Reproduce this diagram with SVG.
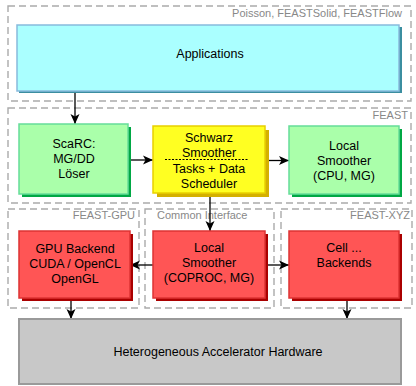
<svg xmlns="http://www.w3.org/2000/svg" width="416" height="386" viewBox="0 0 416 386">
<defs>
<marker id="ah" viewBox="0 0 10 10" refX="10" refY="5" markerWidth="10" markerHeight="10" markerUnits="userSpaceOnUse" orient="auto">
<path d="M0,0.5 L10,5 L0,9.5 L2.5,5 Z" fill="#000"/>
</marker>
</defs>
<style>
.grp{fill:none;stroke:#aaaaaa;stroke-width:1.4;stroke-dasharray:7,4}
.lbl{font-family:"Liberation Sans",Arial,sans-serif;font-size:11px;fill:#888}
.t{font-family:"Liberation Sans",Arial,sans-serif;font-size:12.5px;fill:#000;text-anchor:middle}
.app{fill:#aaffff;stroke:#88bbdd;stroke-width:1.5}
.apps{fill:#3b8ea0}
.grn{fill:#aaffaa;stroke:#66dd99;stroke-width:1.5}
.grns{fill:#00a844}
.yel{fill:#ffff22;stroke:#e8d000;stroke-width:1.5}
.yels{fill:#d4b000}
.red{fill:#ff5555;stroke:#dd3333;stroke-width:1.5}
.reds{fill:#aa0000}
.hw{fill:#c8c8c8;stroke:#9a9a9a;stroke-width:2}
.c{stroke:#000;stroke-width:1.3;fill:none;marker-end:url(#ah)}
</style>
<g id="groups">
<rect class="grp" x="8" y="6" width="403" height="95"/>
<text class="lbl" x="402" y="17" text-anchor="end">Poisson, FEASTSolid, FEASTFlow</text>
<rect class="grp" x="8" y="108" width="403" height="95"/>
<text class="lbl" x="408" y="119" text-anchor="end">FEAST</text>
<rect class="grp" x="8" y="209" width="131" height="99"/>
<text class="lbl" x="135" y="219" text-anchor="end">FEAST-GPU</text>
<rect class="grp" x="145" y="209" width="129" height="99"/>
<text class="lbl" x="157" y="219">Common Interface</text>
<rect class="grp" x="281" y="209" width="131" height="99"/>
<text class="lbl" x="410" y="219" text-anchor="end">FEAST-XYZ</text>
</g>
<g id="connectors">
<line class="c" x1="75" y1="91" x2="75" y2="124"/>
<line class="c" x1="128" y1="160" x2="153" y2="160"/>
<line class="c" x1="265" y1="160.5" x2="289" y2="160.5"/>
<line class="c" x1="210" y1="193" x2="210" y2="231"/>
<line class="c" x1="153" y1="265" x2="130" y2="265"/>
<line class="c" x1="265" y1="265" x2="289" y2="265"/>
<line class="c" x1="71" y1="298" x2="71" y2="319"/>
<line class="c" x1="347" y1="298" x2="347" y2="319"/>
</g>
<g id="applications">
<rect class="apps" x="19" y="27" width="383" height="66"/>
<rect class="app" x="17" y="25" width="382" height="66"/>
<text class="t" x="210" y="58">Applications</text>
</g>
<g id="scarc">
<rect class="grns" x="22" y="127" width="109" height="70"/>
<rect class="grn" x="19" y="124" width="109" height="70"/>
<text class="t" x="74" y="148">ScaRC:</text>
<text class="t" x="74" y="163">MG/DD</text>
<text class="t" x="74" y="178">Löser</text>
</g>
<g id="schwarz">
<rect class="yels" x="157" y="130" width="112" height="67"/>
<rect class="yel" x="153" y="126" width="112" height="67"/>
<text class="t" x="209" y="142">Schwarz</text>
<text class="t" x="209" y="157">Smoother</text>
<line x1="165" y1="159.5" x2="249" y2="159.5" stroke="#000" stroke-width="1" stroke-dasharray="2,1.5"/>
<text class="t" x="209" y="173">Tasks + Data</text>
<text class="t" x="209" y="188">Scheduler</text>
</g>
<g id="local-cpu">
<rect class="grns" x="292" y="129" width="110" height="68"/>
<rect class="grn" x="289" y="126" width="110" height="68"/>
<text class="t" x="344" y="150">Local</text>
<text class="t" x="344" y="165">Smoother</text>
<text class="t" x="344" y="180">(CPU, MG)</text>
</g>
<g id="gpu-backend">
<rect class="reds" x="22" y="234" width="111" height="67"/>
<rect class="red" x="19" y="231" width="111" height="67"/>
<text class="t" x="75" y="253">GPU Backend</text>
<text class="t" x="75" y="268">CUDA / OpenCL</text>
<text class="t" x="75" y="283">OpenGL</text>
</g>
<g id="local-coproc">
<rect class="reds" x="156" y="234" width="112" height="67"/>
<rect class="red" x="153" y="231" width="112" height="67"/>
<text class="t" x="209" y="252">Local</text>
<text class="t" x="209" y="267">Smoother</text>
<text class="t" x="209" y="282">(COPROC, MG)</text>
</g>
<g id="cell">
<rect class="reds" x="292" y="234" width="110" height="67"/>
<rect class="red" x="289" y="231" width="110" height="67"/>
<text class="t" x="344" y="252">Cell ...</text>
<text class="t" x="344" y="267">Backends</text>
</g>
<g id="hardware">
<rect class="hw" x="19" y="319" width="382" height="65"/>
<text class="t" x="218" y="356">Heterogeneous Accelerator Hardware</text>
</g>
</svg>
